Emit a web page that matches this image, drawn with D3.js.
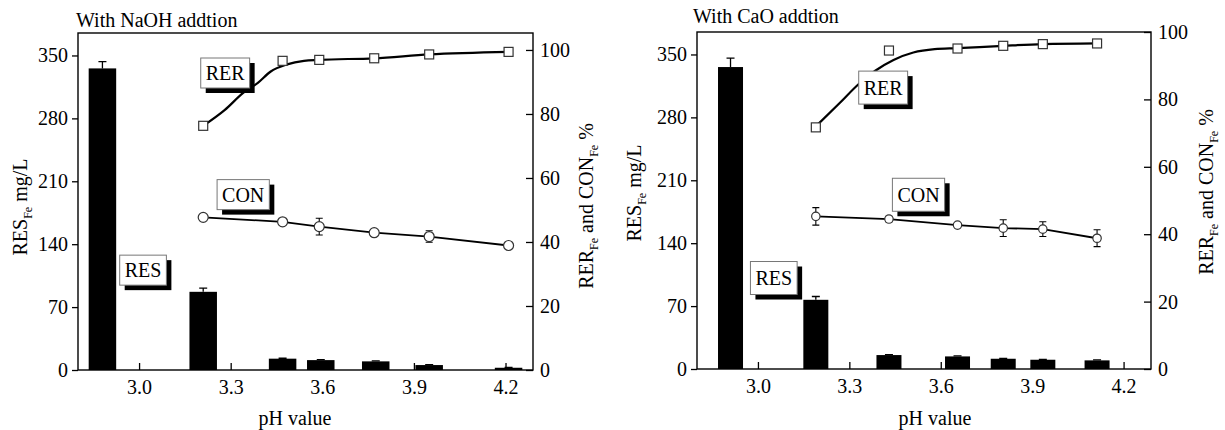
<!DOCTYPE html>
<html>
<head>
<meta charset="utf-8">
<script src="https://cdn.jsdelivr.net/npm/d3@7"></script>
<style>
body { margin: 0; background: #fff; }
svg { font-family: "Liberation Serif", "Times New Roman", serif; }
</style>
</head>
<body>
<svg width="1225" height="430"></svg>
<script>
// tick values
var phTicks = [3.0, 3.3, 3.6, 3.9, 4.2];
var resTicks = [0, 70, 140, 210, 280, 350];
var pctTicks = [0, 20, 40, 60, 80, 100];

// NaOH addition
var naohBarPH = [2.88, 3.21, 3.47, 3.595, 3.775, 3.95, 4.21];
var naohRes = [335.6, 87, 12.6, 11, 9.6, 5.5, 2.5];
var naohResErr = [7.5, 4, 0.5, 0.5, 0.5, 0.5, 0.5];
var naohPH = [3.21, 3.47, 3.59, 3.77, 3.95, 4.21];
var naohRer = [76.3, 96.6, 96.9, 97.4, 98.6, 99.4];
var naohCon = [47.7, 46.3, 44.8, 42.9, 41.7, 38.9];
var naohConErr = [0.6, 0.5, 2.6, 0.8, 1.8, 0.5];
var naohFitPH = [3.21, 3.28, 3.34, 3.39, 3.43, 3.485, 3.54, 3.59, 3.77, 3.95, 4.21];
var naohFit = [76.3, 81.2, 86.5, 89.8, 93.2, 95.5, 96.6, 96.9, 97.4, 98.6, 99.4];

// CaO addition
var caoBarPH = [2.91, 3.19, 3.43, 3.655, 3.805, 3.935, 4.113];
var caoRes = [336, 77, 15.5, 14, 11.4, 10.3, 9.6];
var caoResErr = [10, 3.7, 0.5, 0.5, 0.5, 0.5, 0.5];
var caoPH = [3.19, 3.43, 3.655, 3.805, 3.935, 4.113];
var caoRer = [71.7, 94.5, 95.1, 95.9, 96.4, 96.6];
var caoCon = [45.3, 44.5, 42.7, 41.8, 41.5, 38.8];
var caoConErr = [2.6, 0.8, 0.5, 2.5, 2.2, 2.5];
var caoFitPH = [3.19, 3.27, 3.33, 3.385, 3.445, 3.51, 3.58, 3.655, 3.805, 3.935, 4.113];
var caoFit = [72, 79.1, 84.5, 88.5, 91.7, 93.9, 94.9, 95.2, 95.9, 96.4, 96.6];

// label anchors (pH, %)
var naohLabels = [["RER", 3.282, 92.8], ["CON", 3.341, 54.8], ["RES", 3.013, 31.2]];
var caoLabels = [["RER", 3.411, 83.5], ["CON", 3.527, 51.7], ["RES", 3.052, 27.0]];

var panels = [
  { title: "With NaOH addtion", tx: 76, ty: 27, left: 78, top: 33, w: 455, h: 337, pctMax: 105.3,
    barPH: naohBarPH, res: naohRes, resErr: naohResErr, ph: naohPH, rer: naohRer, con: naohCon,
    conErr: naohConErr, fitPH: naohFitPH, fit: naohFit, labels: naohLabels,
    bw: 27.5, r: 5, sq: 9, boxH: 30, yl: [27, 207], yr: [593, 206], xl: [295, 425] },
  { title: "With CaO addtion", tx: 693, ty: 23, left: 697, top: 32, w: 454, h: 337, pctMax: 100,
    barPH: caoBarPH, res: caoRes, resErr: caoResErr, ph: caoPH, rer: caoRer, con: caoCon,
    conErr: caoConErr, fitPH: caoFitPH, fit: caoFit, labels: caoLabels,
    bw: 25, r: 4.2, sq: 9, boxH: 33, yl: [641, 193], yr: [1213, 192], xl: [935, 425] }
];

var svg = d3.select("svg");

panels.forEach(function(p) {
  var x = d3.scaleLinear().domain([2.8, 4.29]).range([p.left, p.left + p.w]);
  var yRes = d3.scaleLinear().domain([0, 375]).range([p.top + p.h, p.top]);
  var yPct = d3.scaleLinear().domain([0, p.pctMax]).range([p.top + p.h, p.top]);
  var g = svg.append("g");

  g.append("text").attr("x", p.tx).attr("y", p.ty).attr("font-size", 20).text(p.title);

  g.append("rect")
    .attr("x", p.left).attr("y", p.top).attr("width", p.w).attr("height", p.h)
    .attr("fill", "none").attr("stroke", "#000").attr("stroke-width", 1.4);

  var ax = [
    g.append("g").attr("transform", "translate(" + p.left + ",0)")
      .call(d3.axisLeft(yRes).tickValues(resTicks).tickSize(6).tickPadding(4)),
    g.append("g").attr("transform", "translate(" + (p.left + p.w) + ",0)")
      .call(d3.axisRight(yPct).tickValues(pctTicks).tickSize(-7).tickPadding(7)),
    g.append("g").attr("transform", "translate(0," + (p.top + p.h) + ")")
      .call(d3.axisBottom(x).tickValues(phTicks).tickSize(-7).tickPadding(10).tickFormat(d3.format(".1f")))
  ];
  ax.forEach(function(a) {
    a.attr("font-family", null).attr("font-size", 20);
    a.select(".domain").remove();
    a.selectAll(".tick line").attr("stroke-width", 1.3);
    a.selectAll(".tick text").attr("fill", "#000");
  });

  // axis titles
  var t1 = g.append("text").attr("font-size", 20).attr("text-anchor", "middle")
    .attr("transform", "translate(" + p.yl[0] + "," + p.yl[1] + ") rotate(-90)");
  t1.append("tspan").text("RES");
  t1.append("tspan").attr("font-size", 12).attr("dy", 5).text("Fe");
  t1.append("tspan").attr("dy", -5).text(" mg/L");

  var t2 = g.append("text").attr("font-size", 20).attr("text-anchor", "middle")
    .attr("transform", "translate(" + p.yr[0] + "," + p.yr[1] + ") rotate(-90)");
  t2.append("tspan").text("RER");
  t2.append("tspan").attr("font-size", 12).attr("dy", 5).text("Fe");
  t2.append("tspan").attr("dy", -5).text(" and CON");
  t2.append("tspan").attr("font-size", 12).attr("dy", 5).text("Fe");
  t2.append("tspan").attr("dy", -5).text("  %");

  g.append("text").attr("x", p.xl[0]).attr("y", p.xl[1]).attr("font-size", 20)
    .attr("text-anchor", "middle").text("pH value");

  // bars with upper error bars
  var bars = p.barPH.map(function(d, i) { return { ph: d, v: p.res[i], e: p.resErr[i] }; });
  g.selectAll(".err").data(bars).join("path")
    .attr("d", function(d) {
      var cx = x(d.ph), y1 = yRes(d.v), y2 = yRes(d.v + d.e);
      return "M" + cx + "," + y1 + "V" + y2 + "M" + (cx - 4) + "," + y2 + "H" + (cx + 4);
    })
    .attr("stroke", "#000").attr("stroke-width", 1.3).attr("fill", "none");
  g.selectAll(".bar").data(bars).join("rect")
    .attr("x", function(d) { return x(d.ph) - p.bw / 2; })
    .attr("y", function(d) { return yRes(d.v); })
    .attr("width", p.bw)
    .attr("height", function(d) { return yRes(0) - yRes(d.v); })
    .attr("fill", "#000");

  // CON line with error bars
  var pts = p.ph.map(function(d, i) { return { ph: d, rer: p.rer[i], con: p.con[i], e: p.conErr[i] }; });
  g.selectAll(".cerr").data(pts).join("path")
    .attr("d", function(d) {
      var cx = x(d.ph), y1 = yPct(d.con - d.e), y2 = yPct(d.con + d.e);
      return "M" + cx + "," + y1 + "V" + y2 +
        "M" + (cx - 3.5) + "," + y1 + "H" + (cx + 3.5) +
        "M" + (cx - 3.5) + "," + y2 + "H" + (cx + 3.5);
    })
    .attr("stroke", "#000").attr("stroke-width", 1.1).attr("fill", "none");

  g.append("path")
    .datum(pts)
    .attr("d", d3.line().x(function(d) { return x(d.ph); }).y(function(d) { return yPct(d.con); }))
    .attr("fill", "none").attr("stroke", "#000").attr("stroke-width", 1.8);

  // RER fitted curve
  var fit = p.fitPH.map(function(d, i) { return [d, p.fit[i]]; });
  g.append("path")
    .datum(fit)
    .attr("d", d3.line().curve(d3.curveMonotoneX)
      .x(function(d) { return x(d[0]); }).y(function(d) { return yPct(d[1]); }))
    .attr("fill", "none").attr("stroke", "#000").attr("stroke-width", 2.2);

  g.selectAll(".sq").data(pts).join("rect")
    .attr("x", function(d) { return x(d.ph) - p.sq / 2; })
    .attr("y", function(d) { return yPct(d.rer) - p.sq / 2; })
    .attr("width", p.sq).attr("height", p.sq)
    .attr("fill", "#fff").attr("stroke", "#333").attr("stroke-width", 1.2);

  g.selectAll(".ci").data(pts).join("circle")
    .attr("cx", function(d) { return x(d.ph); })
    .attr("cy", function(d) { return yPct(d.con); })
    .attr("r", p.r)
    .attr("fill", "#fff").attr("stroke", "#333").attr("stroke-width", 1.2);

  // boxed labels with drop shadow
  p.labels.forEach(function(l) {
    var cx = x(l[1]), cy = yPct(l[2]);
    var lg = g.append("g");
    var sh = lg.append("rect").attr("fill", "#000");
    var bx = lg.append("rect").attr("fill", "#fff").attr("stroke", "#777").attr("stroke-width", 1);
    var tx = lg.append("text").attr("x", cx).attr("y", cy + 7).attr("font-size", 20)
      .attr("text-anchor", "middle").text(l[0]);
    var bw = tx.node().getComputedTextLength() + 10;
    bx.attr("x", cx - bw / 2).attr("y", cy - p.boxH / 2).attr("width", bw).attr("height", p.boxH);
    sh.attr("x", cx - bw / 2 + 5).attr("y", cy - p.boxH / 2 + 5).attr("width", bw).attr("height", p.boxH);
  });
});
</script>
</body>
</html>
